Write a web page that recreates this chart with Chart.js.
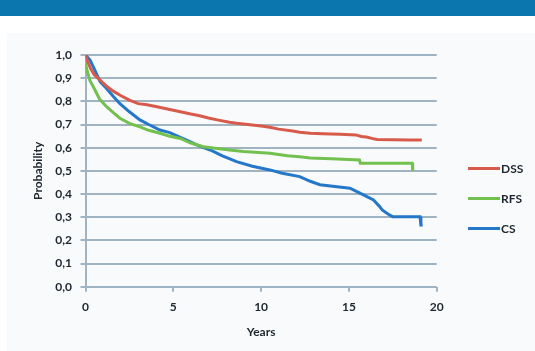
<!DOCTYPE html>
<html>
<head>
<meta charset="utf-8">
<script src="https://cdn.jsdelivr.net/npm/chart.js@4/dist/chart.umd.min.js"></script>
<style>
  html, body { margin: 0; padding: 0; background: #ffffff; }
  #wrap { position: relative; width: 535px; height: 351px; overflow: hidden; background: #ffffff; }
  #bar { position: absolute; left: 0; top: 0; width: 535px; height: 16px; background: #0a76ad; }
  #panel { position: absolute; left: 7px; top: 33px; width: 528px; height: 318px; background: #f9fafb; }
  #c { position: absolute; left: 0; top: 0; }
</style>
</head>
<body>
<div id="wrap">
  <div id="bar"></div>
  <div id="panel"></div>
  <canvas id="c" width="535" height="351"></canvas>
</div>
<script>
// ---- data ----
const seriesLabels = ["DSS", "RFS", "CS"];
const seriesColors = ["#d75a4a", "#72c04e", "#2477c9"];

const dssYears = [0, 0.1, 0.3, 0.5, 0.83, 1.2, 1.6, 2.0, 2.5, 3.0, 3.5, 4.0, 4.8, 5.4, 6.0, 6.5, 7.0, 7.5, 8.2, 8.6, 9.5, 10.0, 10.5, 11.0, 11.8, 12.2, 12.8, 13.5, 14.5, 15.4, 15.7, 16.0, 16.3, 16.6, 17.5, 18.5, 19.15];
const dssProb  = [1.0, 0.975, 0.94, 0.915, 0.892, 0.865, 0.843, 0.825, 0.805, 0.79, 0.785, 0.778, 0.765, 0.755, 0.745, 0.738, 0.728, 0.72, 0.71, 0.705, 0.698, 0.694, 0.688, 0.68, 0.672, 0.667, 0.662, 0.66, 0.658, 0.655, 0.648, 0.646, 0.64, 0.635, 0.634, 0.633, 0.633];

const rfsYears = [0, 0.1, 0.25, 0.54, 0.8, 1.2, 1.6, 1.96, 2.5, 3.1, 3.6, 4.24, 4.8, 5.4, 6.0, 6.7, 7.5, 8.2, 9.0, 10.5, 11.5, 12.2, 12.8, 14.0, 15.6, 15.65, 18.6, 18.62, 18.65];
const rfsProb  = [0.965, 0.93, 0.89, 0.849, 0.81, 0.777, 0.75, 0.727, 0.705, 0.69, 0.675, 0.662, 0.649, 0.64, 0.62, 0.604, 0.596, 0.59, 0.584, 0.576, 0.565, 0.561, 0.555, 0.552, 0.547, 0.533, 0.533, 0.50, 0.50];

const csYears = [0, 0.26, 0.5, 0.83, 1.2, 1.6, 1.96, 2.5, 3.1, 3.6, 4.24, 4.8, 5.4, 5.76, 6.4, 7.1, 7.8, 8.6, 9.5, 10.5, 11.2, 12.2, 12.8, 13.35, 14.2, 15.06, 15.6, 16.0, 16.4, 16.7, 16.9, 17.2, 17.5, 19.05, 19.1, 19.2];
const csProb  = [1.0, 0.978, 0.94, 0.885, 0.855, 0.82, 0.79, 0.755, 0.72, 0.70, 0.676, 0.665, 0.645, 0.633, 0.61, 0.59, 0.565, 0.54, 0.52, 0.504, 0.49, 0.475, 0.455, 0.44, 0.432, 0.425, 0.405, 0.39, 0.374, 0.35, 0.331, 0.315, 0.302, 0.302, 0.266, 0.266];

const xTickValues = [0, 5, 10, 15, 20];
const yTickValues = [0, 0.1, 0.2, 0.3, 0.4, 0.5, 0.6, 0.7, 0.8, 0.9, 1.0];
const xTitle = "Years";
const yTitle = "Probability";

// ---- build chart ----
const pairs = (xs, ys) => xs.map((x, i) => ({ x: x, y: ys[i] }));
const seriesData = [pairs(dssYears, dssProb), pairs(rfsYears, rfsProb), pairs(csYears, csProb)];

const FONT = "Lato, 'Open Sans', 'DejaVu Sans', sans-serif";
const gridColor = "#9fb3c3";
const textColor = "#1e262f";

const legendPlugin = {
  id: "sideLegend",
  afterDraw(chart) {
    const ctx = chart.ctx;
    const x0 = 468, x1 = 500, yStart = 168.5, gap = 30;
    ctx.save();
    chart.data.datasets.forEach((ds, i) => {
      const y = yStart + i * gap;
      ctx.strokeStyle = ds.borderColor;
      ctx.lineWidth = 3;
      ctx.beginPath();
      ctx.moveTo(x0, y);
      ctx.lineTo(x1, y);
      ctx.stroke();
      ctx.fillStyle = textColor;
      ctx.font = "bold 12px " + FONT;
      ctx.textBaseline = "middle";
      ctx.textAlign = "left";
      ctx.fillText(ds.label, x1 + 1, y + 0.5);
    });
    ctx.restore();
  }
};

new Chart(document.getElementById("c"), {
  type: "line",
  data: {
    datasets: seriesLabels.map((lab, i) => ({
      label: lab,
      data: seriesData[i],
      borderColor: seriesColors[i],
      backgroundColor: seriesColors[i],
      borderWidth: 3,
      pointRadius: 0,
      tension: 0,
      fill: false
    }))
  },
  options: {
    responsive: false,
    animation: false,
    events: [],
    layout: { padding: { top: 55, right: 98.3, left: 0, bottom: 0 } },
    plugins: { legend: { display: false }, tooltip: { enabled: false } },
    scales: {
      x: {
        type: "linear",
        min: 0, max: 20,
        afterFit(scale) { scale.height = 64.3; },
        afterBuildTicks(scale) { scale.ticks = xTickValues.map(v => ({ value: v })); },
        ticks: {
          padding: 8,
          color: textColor,
          font: { family: FONT, size: 12, weight: "bold" },
          maxRotation: 0,
          callback: v => String(v)
        },
        grid: { drawOnChartArea: false, drawTicks: true, tickLength: 5, color: gridColor, lineWidth: 2 },
        border: { display: false },
        title: {
          display: true, text: xTitle, color: textColor,
          font: { family: FONT, size: 12, weight: "bold" },
          padding: { top: 0, bottom: 11.8 }
        }
      },
      y: {
        min: 0, max: 1,
        afterFit(scale) { scale.width = 85.5; },
        afterBuildTicks(scale) { scale.ticks = yTickValues.map(v => ({ value: v })); },
        ticks: {
          padding: 8.5,
          color: textColor,
          font: { family: FONT, size: 12, weight: "bold" },
          callback: v => Number(v).toFixed(1).replace(".", ",")
        },
        grid: { color: gridColor, lineWidth: 2, tickLength: 5, drawTicks: true },
        border: { display: true, color: gridColor, width: 2 },
        title: {
          display: true, text: yTitle, color: textColor,
          font: { family: FONT, size: 12, weight: "bold" },
          padding: { top: 30.8, bottom: 0 }
        }
      }
    }
  },
  plugins: [legendPlugin]
});
</script>
</body>
</html>
